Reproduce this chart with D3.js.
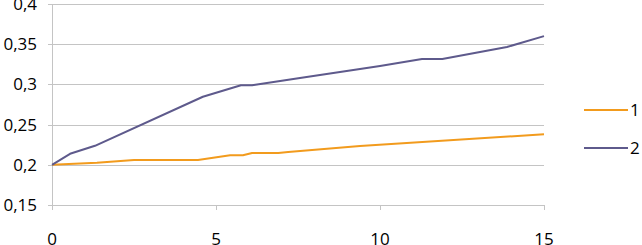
<!DOCTYPE html>
<meta charset="utf-8">
<script src="https://cdn.jsdelivr.net/npm/d3@7"></script>
<style>
  body { margin: 0; background: #fff; }
  text { font-family: "Open Sans", "DejaVu Sans", sans-serif; font-size: 17px; fill: #000; }
</style>
<div id="chart"></div>
<script>
// series 1 (orange)
var x1 = [0, 1.37, 2.5, 4.45, 5.43, 5.82, 6.1, 6.9, 7.2, 9.39, 15];
var y1 = [0.2, 0.2025, 0.206, 0.206, 0.212, 0.212, 0.2147, 0.2147, 0.216, 0.2234, 0.238];
// series 2 (purple)
var x2 = [0, 0.55, 1.31, 4.6, 5.76, 6.1, 7.56, 10, 11.28, 11.9, 13.87, 15];
var y2 = [0.2, 0.2137, 0.2236, 0.2846, 0.299, 0.299, 0.308, 0.323, 0.3316, 0.3316, 0.3465, 0.36];

var seriesNames = ["1", "2"];
var colors = ["#F29B1D", "#5E5A8C"];
var xTicks = [0, 5, 10, 15];
var yTicks = [0.15, 0.2, 0.25, 0.3, 0.35, 0.4];

var width = 642, height = 245;
var svg = d3.select("#chart").append("svg")
  .attr("width", width).attr("height", height);

var x = d3.scaleLinear().domain([0, 15]).range([52, 544]);
var y = d3.scaleLinear().domain([0.15, 0.4]).range([205, 4]);

var fmt = function(d) { return d3.format("")(+d.toFixed(2)).replace(".", ","); };

// horizontal gridlines
svg.append("g").selectAll("line").data(yTicks).enter().append("line")
  .attr("x1", 48).attr("x2", 544)
  .attr("y1", function(d) { return Math.round(y(d)) + 0.5; })
  .attr("y2", function(d) { return Math.round(y(d)) + 0.5; })
  .attr("stroke", "#c4c4c4");

// y axis line
svg.append("line")
  .attr("x1", 52.5).attr("x2", 52.5).attr("y1", y(0.4)).attr("y2", y(0.15))
  .attr("stroke", "#c4c4c4");

// x tick marks
svg.append("g").selectAll("line").data(xTicks).enter().append("line")
  .attr("x1", function(d) { return Math.round(x(d)) + 0.5; })
  .attr("x2", function(d) { return Math.round(x(d)) + 0.5; })
  .attr("y1", y(0.15)).attr("y2", y(0.15) + 5)
  .attr("stroke", "#c4c4c4");

// y labels
svg.append("g").selectAll("text").data(yTicks).enter().append("text")
  .attr("x", 37).attr("y", function(d) { return y(d) + 6; })
  .attr("text-anchor", "end")
  .text(fmt);

// x labels
svg.append("g").selectAll("text").data(xTicks).enter().append("text")
  .attr("x", function(d) { return x(d); }).attr("y", 245)
  .attr("text-anchor", "middle")
  .text(function(d) { return d; });

var line = d3.line().x(function(d) { return x(d[0]); }).y(function(d) { return y(d[1]); });

var data = [d3.zip(x1, y1), d3.zip(x2, y2)];
data.forEach(function(s, i) {
  svg.append("path").datum(s)
    .attr("fill", "none")
    .attr("stroke", colors[i])
    .attr("stroke-width", 2)
    .attr("stroke-linejoin", "round")
    .attr("d", line);
});

// legend
var legY = [110, 148];
seriesNames.forEach(function(n, i) {
  svg.append("line")
    .attr("x1", 584).attr("x2", 628).attr("y1", legY[i]).attr("y2", legY[i])
    .attr("stroke", colors[i]).attr("stroke-width", 2);
  svg.append("text").attr("x", 630).attr("y", legY[i] + 6).text(n);
});
</script>
